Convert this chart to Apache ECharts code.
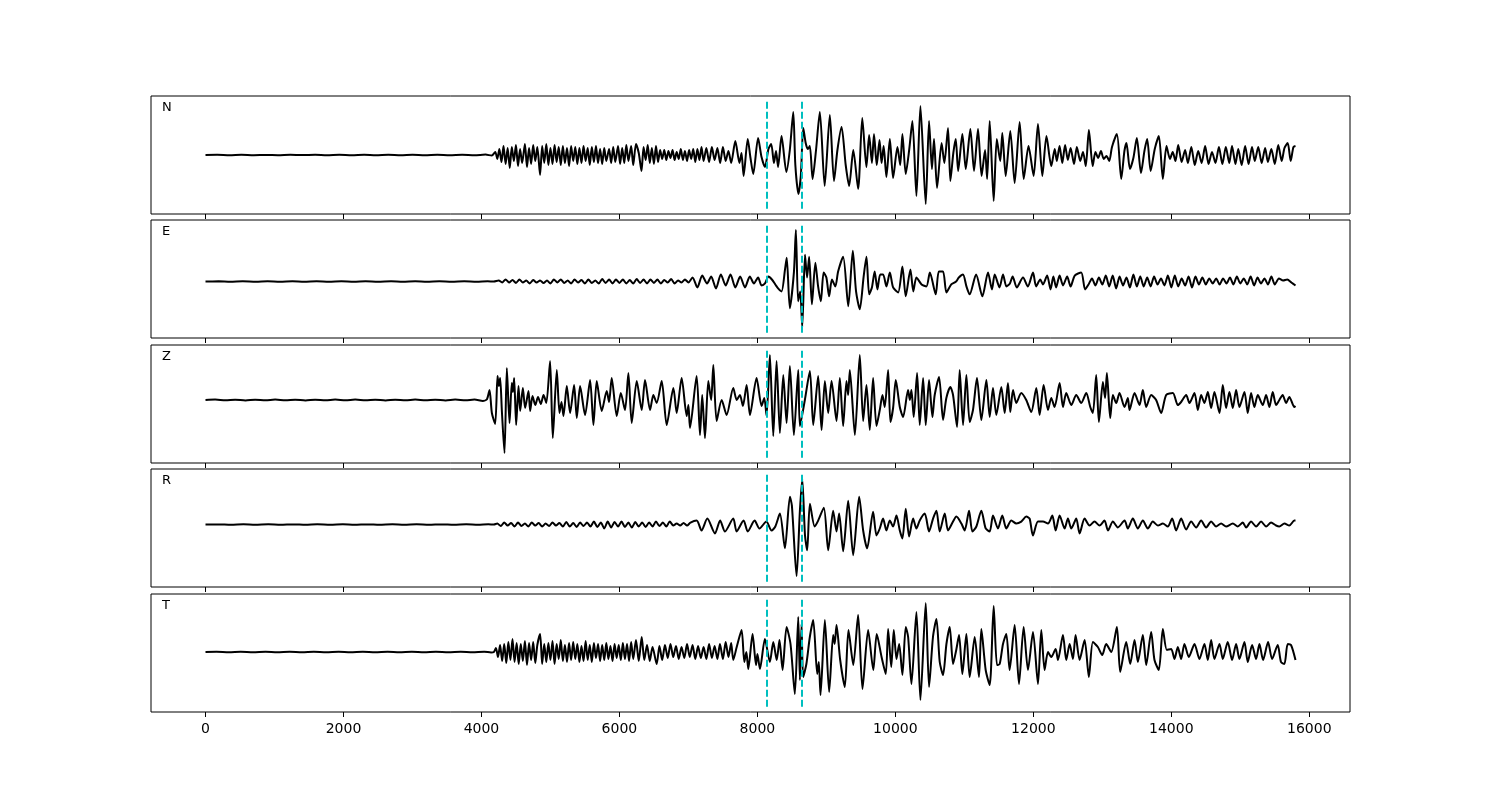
<!DOCTYPE html>
<html>
<head>
<meta charset="utf-8">
<script src="https://cdn.jsdelivr.net/npm/echarts@6/dist/echarts.min.js"></script>
<style>html,body{margin:0;padding:0;background:#fff}#c{width:1500px;height:800px}</style>
</head>
<body>
<div id="c"></div>
<script>
const components = ['N', 'E', 'Z', 'R', 'T'];
const xTicks = [0, 2000, 4000, 6000, 8000, 10000, 12000, 14000, 16000];
const picks = [8140, 8645];
const yLimits = [[-59, 59], [-57, 62], [-63, 55], [-63, 56], [-60, 58]];

const nTrace = [
[0,0],[170,0.2],[350,-0.15],[520,0.2],[700,-0.2],[880,0.1],[1050,-0.2],[1230,0.2],[1400,-0.1],[1590,0.2],[1760,-0.2],[1940,0.15],[2120,-0.2],[2300,0.2],[2470,-0.15],[2650,0.2],[2830,-0.2],[3000,0.15],[3180,-0.2],[3360,0.2],[3540,-0.15],[3720,0.2],[3900,-0.2],[4060,0.4],[4150,-0.6],
[4200,3],[4230,-4],[4260,6],[4290,-7],[4320,9],[4350,-9],[4380,7],[4410,-13],[4440,8],[4470,-6],[4500,10],[4530,-11],[4560,6],[4590,-8],[4630,11],[4660,-12],[4690,7],[4720,-9],[4750,10],[4780,-6],[4810,8],[4850,-20],[4880,9],[4910,-8],[4940,11],[4970,-10],[5000,7],[5030,-9],[5060,10],[5090,-7],[5120,8],[5150,-10],[5180,9],[5210,-8],[5240,7],[5270,-11],[5300,9],[5330,-6],[5360,8],[5390,-9],[5420,7],[5450,-8],[5480,9],[5510,-6],[5540,7],[5570,-10],[5600,8],[5630,-7],[5660,9],[5690,-8],[5720,6],[5750,-9],[5780,7],[5810,-6],[5850,6],[5880,-8],[5910,8],[5940,-7],[5980,9],[6010,-9],[6040,7],[6070,-8],[6100,10],[6130,-6],[6170,9],[6200,-10],[6240,11],[6280,2],[6320,-16],[6350,8],[6380,-5],[6410,10],[6440,-8],[6470,7],[6500,-9],[6530,9],[6560,-7],[6590,5],[6620,-4],[6650,5],[6680,-5],[6710,4],[6740,-3],[6770,5],[6800,-5],[6830,3],[6860,-4],[6890,6],[6920,-5],[6950,4],[6980,-6],[7010,5],[7040,-4],[7070,6],[7100,-7],[7130,6],[7160,-5],[7190,8],[7220,-6],[7260,7],[7300,-7],[7340,8],[7380,-5],[7420,7],[7460,-8],[7500,8],[7540,-6],[7580,4],[7620,-8],[7680,14],[7740,-8],[7770,2],[7800,-21],[7860,16],[7900,-3],[7940,-19],[8010,17],[8060,-2],[8110,-12],[8160,6],[8200,11],[8240,-8],[8270,4],[8300,-12],[8350,19],[8420,-17],[8470,5],[8520,43],[8550,-10],[8595,-39],[8630,-20],[8665,27],[8700,12],[8730,6],[8760,9],[8800,-24],[8850,5],[8905,43],[8975,-31],[9050,40],[9110,-26],[9160,5],[9220,28],[9280,-10],[9330,-31],[9390,5],[9460,-34],[9520,37],[9580,-12],[9620,20],[9660,-8],[9690,21],[9730,-10],[9770,15],[9800,-8],[9830,9],[9870,-22],
[9920,16],[9967,-23],[10030,8],[10070,-10],[10102,21],[10150,-19],[10200,5],[10247,34],[10305,-41],[10363,49],[10440,-49],[10488,34],[10530,-14],[10560,16],[10604,-33],[10670,12],[10710,-8],[10763,27],[10797,-26],[10840,2],[10875,16],[10910,-16],[10971,21],[11020,-14],[11087,26],[11140,-16],[11198,26],[11250,-21],[11300,5],[11330,-24],[11367,34],[11425,-46],[11470,16],[11520,-6],[11550,22],[11599,-21],[11666,24],[11729,-28],[11801,33],[11860,-24],[11930,9],[12004,-21],[12067,31],[12130,-21],[12190,19],[12260,-11],[12310,6],[12340,-6],[12380,9],[12420,-8],[12460,10],[12500,-5],[12540,7],[12590,-9],[12630,8],[12680,-6],[12720,3],[12760,-11],[12805,25],[12860,-11],[12900,3],[12940,-3],[12980,4],[13020,-4],[13060,-1],[13100,-6],[13140,8],[13211,21],[13274,-24],[13320,4],[13350,12],[13400,-14],[13450,-3],[13500,17],[13560,-18],[13610,4],[13650,16],[13700,-16],[13760,6],[13819,19],[13877,-24],[13930,9],[13980,-4],[14020,3],[14060,-6],[14100,10],[14150,-7],[14200,5],[14240,-8],[14290,8],[14340,-10],[14390,4],[14440,-8],[14490,9],[14540,-9],[14590,3],[14640,-8],[14690,8],[14740,-9],[14790,8],[14840,-8],[14880,9],[14930,-9],[14970,6],[15020,-10],[15070,9],[15120,-9],[15170,8],[15210,-6],[15260,8],[15310,-8],[15360,7],[15400,-7],[15450,6],[15500,-9],[15550,10],[15600,-6],[15640,7],[15687,12],[15730,-6],[15770,8],[15800,9]
];

const eTrace = [
[0,0],[190,0.15],[360,-0.2],[540,0.2],[730,-0.15],[900,0.2],[1080,-0.2],[1260,0.15],[1430,-0.2],[1610,0.2],[1790,-0.15],[1970,0.2],[2150,-0.2],[2320,0.15],[2500,-0.2],[2690,0.2],[2860,-0.15],[3040,0.2],[3210,-0.2],[3390,0.15],[3570,-0.2],[3750,0.2],[3930,-0.15],[4090,0.2],
[4180,0],[4250,1],[4300,-1],[4350,2],[4400,-1],[4450,1.5],[4500,-1.5],[4550,2],[4600,-1],[4650,1],[4700,-2],[4750,1.5],[4800,-1],[4850,1],[4900,-1.5],[4950,1],[5000,-2],[5050,2],[5100,-1],[5150,2],[5200,-1.5],[5250,1],[5300,-2],[5350,2],[5400,-1],[5450,1.5],[5500,-2],[5550,2],[5600,-1.5],[5650,1],[5700,-2],[5750,2.5],[5800,-1.5],[5850,2],[5900,-2],[5950,2],[6000,-1.5],[6050,2],[6100,-2],[6150,1.5],[6200,-2],[6250,2.5],[6300,-1.5],[6350,2],[6400,-2],[6450,2],[6500,-1.5],[6550,2],[6600,-2],[6650,1.5],[6700,-1],[6750,2.5],[6800,-2],[6850,1],[6900,-1],[6950,2],[7000,-1],[7060,4],[7130,-6],[7200,6],[7270,-2],[7330,5],[7400,-7],[7470,7],[7540,-4],[7610,7],[7680,-6],[7750,5],[7820,-6],[7890,5],[7950,-2],[8010,4],[8060,-4],[8110,-2],[8160,5],[8210,2],[8260,-3],[8300,-7],[8350,-10],[8400,12],[8425,24],[8470,-27],[8530,10],[8558,52],[8590,-20],[8620,-10],[8650,-46],[8690,27],[8720,4],[8750,25],[8790,-23],[8840,19],[8880,-5],[8920,-20],[8960,9],[9000,4],[9040,-15],[9080,2],[9130,-5],[9170,10],[9243,25],[9317,-25],[9383,31],[9430,-10],[9484,-28],[9540,5],[9581,25],[9620,-13],[9660,-6],[9700,10],[9740,-8],[9780,7],
[9822,7],[9870,-5],[9920,9],[9967,-6],[10040,-11],[10102,15],[10150,-15],[10218,12],[10260,-10],[10305,4],[10380,-3],[10450,-5],[10500,9],[10585,-13],[10630,10],[10691,10],[10740,-11],[10810,-3],[10880,0],[10920,4],[10980,7],[11030,-5],[11077,-13],[11170,7],[11261,-15],[11343,9],[11400,-8],[11440,7],[11510,-6],[11560,7],[11610,-5],[11660,-2],[11700,5],[11760,-6],[11850,4],[11920,-5],[11995,9],[12040,-5],[12100,2],[12140,-3],[12200,6],[12250,-8],[12290,5],[12330,-6],[12380,6],[12430,-4],[12490,5],[12540,-5],[12600,6],[12694,9],[12750,-8],[12800,-3],[12850,3],[12900,-4],[12950,4],[13000,-3],[13050,6],[13100,-5],[13150,6],[13200,-7],[13250,5],[13300,-4],[13350,4],[13400,-6],[13450,7],[13500,-5],[13550,5],[13600,-5],[13650,4],[13700,-5],[13750,5],[13800,-3],[13850,3],[13900,-4],[13950,6],[14000,-6],[14050,6],[14100,-5],[14150,3],[14200,-4],[14250,5],[14300,-6],[14350,5],[14400,-3],[14450,4],[14500,-3],[14550,3],[14600,-2],[14650,3],[14700,-3],[14750,3],[14800,-2],[14850,4],[14900,-3],[14950,5],[15000,-2],[15050,3],[15100,-3],[15150,5],[15200,-4],[15250,4],[15300,-2],[15350,3],[15400,-3],[15450,5],[15500,-3],[15560,3],[15620,1],[15680,2],[15740,-1],[15800,-4]
];

const zTrace = [
[0,0],[140,0.4],[290,-0.3],[430,0.35],[580,-0.45],[720,0.3],[870,-0.35],[1010,0.45],[1160,-0.3],[1300,0.35],[1450,-0.4],[1590,0.3],[1740,-0.35],[1880,0.45],[2030,-0.3],[2170,0.4],[2320,-0.35],[2460,0.3],[2610,-0.45],[2750,0.35],[2900,-0.3],[3040,0.4],[3190,-0.35],[3330,0.3],[3480,-0.4],[3620,0.45],[3770,-0.35],[3900,0.4],[4020,-1],[4080,0.8],
[4117,10],[4151,-13],[4199,-24],[4233,24],[4252,14],[4271,22],[4296,-11],[4334,-53],[4368,32],[4407,-23],[4440,17],[4457,8],[4474,22],[4503,-25],[4537,14],[4561,-11],[4600,12],[4633,-8],[4682,9],[4706,-11],[4740,4],[4780,-5],[4820,3],[4860,-4],[4900,5],[4940,-3],[4995,39],[5034,-38],[5092,30],[5131,-13],[5160,-2],[5189,-16],[5237,14],[5285,-13],[5343,15],[5382,-18],[5430,14],[5502,-15],[5575,20],[5623,-25],[5671,19],[5744,-11],[5816,9],[5850,-2],[5888,22],[5961,-16],[6020,7],[6081,-10],[6130,27],[6178,-23],[6251,19],[6323,-10],[6371,20],[6444,-10],[6492,5],[6540,-3],[6613,19],[6685,-25],[6782,12],[6830,-13],[6902,22],[6975,-16],[7000,-5],[7023,-28],[7119,24],[7168,-35],[7200,5],[7240,-38],[7288,19],[7330,0],[7361,35],[7409,-21],[7482,0],[7554,-15],[7650,12],[7700,0],[7747,5],[7790,-6],[7844,15],[7892,-15],[7988,22],[8061,-6],[8100,2],[8133,-16],[8181,45],[8230,-36],[8278,39],[8326,-33],[8375,25],[8423,-23],[8471,34],[8529,-35],[8592,30],[8616,-26],[8688,0],[8761,29],[8809,-25],[8881,24],[8930,-30],[8978,19],[9026,-13],[9075,19],[9147,-21],[9195,22],[9243,-26],[9291,19],[9315,5],[9340,30],[9413,-35],[9484,45],[9533,-21],[9581,15],[9629,-30],[9677,22],[9726,-26],[9774,-10],[9813,5],[9846,-7],[9895,30],[9928,-22],[9967,-8],[10006,20],[10064,-7],[10112,-17],[10184,10],[10210,0],[10233,10],[10266,-17],[10315,27],[10353,-25],[10402,22],[10440,-25],[10488,20],[10537,-17],[10570,5],[10633,23],[10691,-20],[10739,2],[10797,13],[10836,5],[10894,-27],[10932,30],[10981,-25],[11029,25],[11077,-22],[11125,-10],[11183,22],[11246,-20],[11319,20],[11367,-17],[11415,12],[11463,-15],[11536,13],[11584,-13],[11632,17],[11666,-12],[11705,10],[11753,-3],[11825,7],[11897,0],[11970,-12],[12043,12],[12091,-15],[12149,15],[12212,-10],[12260,2],[12308,-7],[12381,17],[12429,-7],[12477,7],[12550,-5],[12622,5],[12694,-3],[12767,7],[12825,-7],[12863,-13],[12911,25],[12950,-22],[13008,18],[13040,2],[13066,27],[13114,-18],[13153,5],[13201,-3],[13249,7],[13322,-7],[13370,2],[13394,-10],[13467,7],[13539,-5],[13587,10],[13636,-7],[13708,5],[13780,0],[13853,-13],[13925,5],[14022,7],[14094,-5],[14142,-2],[14215,5],[14263,-3],[14336,7],[14384,-10],[14432,5],[14480,-3],[14529,8],[14577,-8],[14625,8],[14698,-13],[14746,15],[14794,-8],[14842,8],[14891,-8],[14939,10],[14987,-7],[15060,8],[15108,-13],[15156,7],[15204,-7],[15253,5],[15325,-5],[15374,5],[15422,-7],[15470,8],[15518,-5],[15566,0],[15614,5],[15663,-3],[15711,3],[15783,-7],[15800,-6]
];

const rTrace = [
[0,0],[180,0.15],[370,-0.2],[550,0.2],[720,-0.15],[910,0.2],[1090,-0.2],[1270,0.15],[1450,-0.2],[1620,0.2],[1810,-0.15],[1990,0.2],[2160,-0.2],[2350,0.15],[2520,-0.2],[2710,0.2],[2880,-0.15],[3060,0.2],[3240,-0.2],[3420,0.15],[3600,-0.2],[3780,0.2],[3950,-0.15],[4100,0.2],
[4180,0],[4230,1],[4280,-1.5],[4330,2],[4380,-1],[4430,1.5],[4480,-2],[4530,2],[4580,-1.5],[4630,1],[4680,-2],[4730,2],[4780,-1],[4830,1.5],[4880,-2],[4930,1],[4980,-1.5],[5030,2],[5080,-1],[5130,1.5],[5180,-2],[5230,2.5],[5280,-2],[5330,1.5],[5380,-2.5],[5430,2],[5480,-1.5],[5530,2],[5580,-2],[5630,3],[5680,-2.5],[5730,2],[5780,-4],[5830,3],[5880,-3],[5930,2.5],[5980,-2],[6030,3],[6080,-2.5],[6130,2],[6180,-3],[6230,2.5],[6280,-2],[6330,2],[6380,-2.5],[6430,2],[6480,-2],[6530,3],[6580,-1.5],[6630,2],[6680,-2],[6730,3],[6780,-1],[6830,1],[6880,-1],[6930,1.5],[6980,-1],[7030,2],[7120,4],[7190,-6],[7274,6],[7385,-9],[7460,4],[7530,-7],[7650,6],[7699,-7],[7800,4],[7860,-7],[7960,4],[8030,-4],[8130,3],[8205,-6],[8260,-2],[8326,11],[8399,-24],[8471,28],[8500,19],[8568,-52],[8616,14],[8650,46],[8690,-11],[8722,-26],[8761,21],[8830,-2],[8881,4],[8963,17],[9026,-26],[9098,14],[9147,-7],[9185,11],[9243,-27],[9316,24],[9388,-31],[9475,28],[9533,-6],[9591,-24],[9677,13],[9726,-11],
[9774,-4],[9822,6],[9870,-6],[9919,4],[9967,-2],[10016,9],[10064,-6],[10102,-14],[10150,16],[10199,-12],[10257,6],[10305,-4],[10353,4],[10426,11],[10488,-7],[10546,6],[10595,14],[10643,-7],[10715,11],[10763,-6],[10836,3],[10884,8],[10957,1],[11005,-6],[11068,14],[11116,-7],[11174,-2],[11246,14],[11309,-4],[11367,-7],[11415,9],[11487,-4],[11550,9],[11608,-4],[11681,4],[11753,1],[11825,3],[11898,8],[11946,6],[11994,-11],[12067,3],[12139,3],[12212,1],[12275,9],[12323,-6],[12381,9],[12453,-4],[12501,6],[12550,-4],[12622,6],[12670,-9],[12743,6],[12815,-1],[12887,3],[12960,-1],[13032,4],[13081,-6],[13153,3],[13225,-3],[13322,4],[13370,-4],[13442,6],[13515,-4],[13587,4],[13660,-4],[13732,3],[13805,-1],[13877,1],[13949,-2],[14012,6],[14070,-6],[14142,6],[14215,-5],[14287,3],[14360,-3],[14432,4],[14504,-3],[14577,3],[14649,-2],[14722,1],[14794,-2],[14891,1],[14963,-2],[15036,2],[15084,-3],[15156,3],[15229,-2],[15301,3],[15374,-2],[15446,2],[15518,-1],[15566,-2],[15639,1],[15711,-1],[15783,4],[15800,4]
];

const tTrace = [
[0,0],[160,0.2],[340,-0.2],[510,0.15],[690,-0.2],[870,0.2],[1040,-0.15],[1220,0.2],[1400,-0.2],[1570,0.2],[1750,-0.15],[1930,0.2],[2100,-0.2],[2280,0.15],[2460,-0.2],[2640,0.2],[2810,-0.15],[2990,0.2],[3170,-0.2],[3340,0.15],[3520,-0.2],[3700,0.2],[3870,-0.2],[4040,0.3],[4140,-0.5],
[4180,0],[4210,4],[4240,-5],[4270,7],[4300,-9],[4330,8],[4360,-11],[4390,10],[4420,-8],[4450,13],[4480,-10],[4510,9],[4540,-12],[4570,8],[4600,-9],[4630,11],[4660,-13],[4690,9],[4720,-8],[4750,10],[4780,-11],[4810,7],[4850,18],[4880,-12],[4910,8],[4940,-10],[4970,9],[5000,-8],[5030,11],[5060,-12],[5090,8],[5120,-7],[5150,12],[5180,-9],[5210,7],[5240,-10],[5270,9],[5300,-8],[5330,10],[5360,-7],[5390,8],[5420,-10],[5450,6],[5480,-9],[5510,11],[5540,-8],[5570,7],[5600,-10],[5630,9],[5660,-6],[5690,8],[5720,-9],[5750,7],[5780,-8],[5810,9],[5840,-7],[5870,6],[5900,-9],[5930,8],[5960,-6],[5990,7],[6020,-8],[6050,9],[6080,-7],[6110,8],[6140,-9],[6170,10],[6200,-7],[6240,12],[6280,-9],[6323,15],[6360,-8],[6400,7],[6440,-9],[6480,5],[6540,-12],[6580,6],[6620,-8],[6660,7],[6700,-6],[6740,8],[6780,-5],[6820,6],[6860,-7],[6900,5],[6940,-6],[6980,8],[7020,-5],[7060,7],[7100,-7],[7140,6],[7180,-6],[7220,5],[7260,-7],[7300,8],[7340,-6],[7380,6],[7420,-7],[7457,8],[7500,-7],[7540,10],[7580,-5],[7620,9],[7650,-8],[7700,5],[7771,22],[7810,-10],[7840,0],[7868,-17],[7930,18],[7980,-13],[8000,-2],[8037,-17],[8109,13],[8181,-10],[8230,10],[8280,-8],[8320,12],[8365,-18],[8423,25],[8480,8],[8543,-42],[8592,35],[8616,-28],[8640,28],[8664,-25],[8710,-12],[8760,15],[8809,32],[8867,-22],[8890,-10],[8915,-43],[8978,32],[9040,-40],[9098,17],[9120,8],[9147,27],[9200,-8],[9267,-35],[9320,22],[9390,-13],[9460,37],[9523,-37],[9605,22],[9680,-18],[9730,18],[9800,-5],[9861,-22],[9895,23],[9940,-15],[9977,22],[10016,-7],[10055,8],[10102,-23],[10150,25],[10185,15],[10233,-32],[10305,40],[10363,-48],[10440,49],[10488,-35],[10545,15],[10595,33],[10643,-10],[10691,-23],[10740,8],[10788,25],[10836,-12],[10885,3],[10923,17],[10971,-22],[11029,18],[11077,-25],[11150,15],[11212,-25],[11246,23],[11309,-18],[11367,-33],[11425,46],[11473,-13],[11512,-12],[11560,8],[11608,18],[11656,-18],[11729,27],[11792,-32],[11859,25],[11922,-18],[11995,20],[12067,-32],[12115,22],[12163,-18],[12212,0],[12260,-5],[12323,3],[12357,-8],[12429,17],[12477,-8],[12526,8],[12574,-7],[12612,17],[12670,-8],[12743,12],[12805,-25],[12863,10],[12935,5],[12998,-3],[13056,8],[13129,0],[13211,25],[13259,-20],[13346,10],[13404,-12],[13467,12],[13515,-10],[13587,17],[13636,-13],[13708,20],[13756,-8],[13819,-18],[13877,23],[13935,2],[13998,3],[14046,-7],[14094,5],[14142,-7],[14190,8],[14254,-5],[14336,8],[14407,-7],[14480,8],[14529,-8],[14577,12],[14625,-7],[14698,8],[14746,-7],[14818,10],[14881,-8],[14939,8],[14987,-7],[15060,10],[15108,-10],[15171,7],[15229,-7],[15277,8],[15330,-8],[15403,10],[15460,-7],[15542,7],[15590,-10],[15639,-12],[15687,8],[15735,7],[15800,-8]
];

const traces = [nTrace, eTrace, zTrace, rTrace, tTrace];

// layout
const panelTops = [96, 220, 345, 469, 594];
const panelH = 118;
const font = 'DejaVu Sans';

const chart = echarts.init(document.getElementById('c'), null, { renderer: 'canvas' });

const option = {
  animation: false,
  backgroundColor: '#fff',
  title: components.map((c, i) => ({
    text: c, left: 162, top: panelTops[i] + 5, padding: 0,
    textStyle: { fontSize: 13, fontWeight: 'normal', color: '#000', fontFamily: font }
  })),
  grid: panelTops.map(t => ({
    left: 151, width: 1199, top: t, height: panelH,
    show: true, borderColor: '#000', borderWidth: 1, backgroundColor: 'rgba(0,0,0,0)'
  })),
  xAxis: components.map((c, i) => ({
    gridIndex: i, type: 'value', min: -790, max: 16590, position: 'bottom',
    axisLine: { show: false, onZero: false },
    splitLine: { show: false },
    axisTick: { show: true, inside: false, length: 5, lineStyle: { color: '#000', width: 1 }, customValues: xTicks },
    axisLabel: {
      show: i === components.length - 1, customValues: xTicks, color: '#000', fontSize: 14, margin: 10, fontFamily: font,
      formatter: v => String(v)
    }
  })),
  yAxis: components.map((c, i) => ({
    gridIndex: i, type: 'value', min: yLimits[i][0], max: yLimits[i][1], show: false
  })),
  series: components.map((c, i) => {
    const lo = yLimits[i][0], hi = yLimits[i][1];
    const pad = (hi - lo) / 22;
    return {
      name: c, type: 'line', xAxisIndex: i, yAxisIndex: i,
      data: traces[i], showSymbol: false, symbol: 'none', smooth: 0.25,
      lineStyle: { color: '#000', width: 2 },
      silent: true,
      markLine: {
        silent: true, symbol: ['none', 'none'], label: { show: false },
        lineStyle: { color: '#00bfbf', type: [7, 3], width: 2 },
        data: picks.map(p => [{ coord: [p, lo + pad] }, { coord: [p, hi - pad] }])
      }
    };
  })
};
chart.setOption(option);
</script>
</body>
</html>
